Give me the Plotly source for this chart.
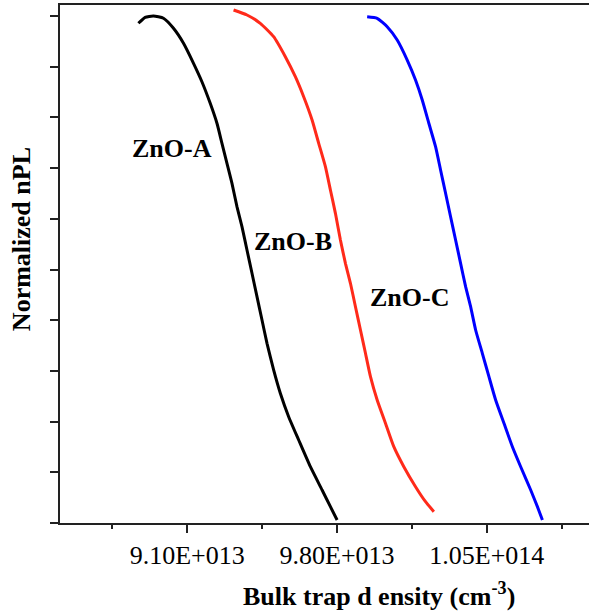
import plotly.graph_objects as go

# ---- data ----
x_a = [8.872e13, 8.9035e13, 8.9423e13, 8.9891e13, 9.0359e13, 9.0827e13, 9.1295e13, 9.1688e13,
       9.2076e13, 9.239e13, 9.2624e13, 9.2858e13, 9.3092e13, 9.3325e13, 9.3559e13, 9.3793e13,
       9.4027e13, 9.4261e13, 9.4495e13, 9.4729e13, 9.5038e13, 9.5351e13, 9.574e13, 9.6208e13,
       9.6755e13, 9.7303e13, 9.7691e13, 9.8004e13]
y_a = [0.9856, 0.9974, 1.000, 0.9955, 0.9757, 0.9462, 0.9067, 0.8704,
       0.8278, 0.7884, 0.7489, 0.7095, 0.670, 0.6239, 0.5844, 0.5385,
       0.4925, 0.4464, 0.4004, 0.3544, 0.3018, 0.2558, 0.2097, 0.1637,
       0.111, 0.0651, 0.0322, 0.0059]

x_b = [9.3166e13, 9.3793e13, 9.4416e13, 9.5038e13, 9.5585e13, 9.6053e13, 9.6442e13, 9.6835e13,
       9.7144e13, 9.7457e13, 9.7691e13, 9.7925e13, 9.8159e13, 9.8393e13, 9.8627e13, 9.8861e13,
       9.9095e13, 9.9329e13, 9.9563e13, 9.9876e13, 10.0264e13, 10.0653e13, 10.1121e13,
       10.1668e13, 10.2136e13, 10.2524e13]
y_b = [1.0118, 1.002, 0.9856, 0.9592, 0.9197, 0.8803, 0.8408, 0.7949,
       0.7489, 0.7028, 0.6568, 0.6108, 0.5582, 0.5122, 0.4728, 0.4266,
       0.3807, 0.3347, 0.2886, 0.2426, 0.1966, 0.1505, 0.111,
       0.0716, 0.042, 0.0223]

x_c = [9.9408e13, 9.9876e13, 10.0344e13, 10.0812e13, 10.128e13, 10.1668e13, 10.1982e13, 10.229e13,
       10.2604e13, 10.2838e13, 10.3072e13, 10.3306e13, 10.354e13, 10.3774e13, 10.4008e13,
       10.4242e13, 10.4476e13, 10.4789e13, 10.5098e13, 10.5411e13, 10.58e13, 10.6193e13,
       10.6581e13, 10.7049e13, 10.7362e13, 10.7596e13]
y_c = [0.9986, 0.9955, 0.9789, 0.9527, 0.9132, 0.8738, 0.8343, 0.7884,
       0.7422, 0.6963, 0.6503, 0.6041, 0.5582, 0.5122, 0.4661,
       0.4266, 0.3807, 0.3347, 0.2886, 0.2426, 0.1966, 0.1505,
       0.111, 0.0651, 0.0322, 0.0059]

series_names = ["ZnO-A", "ZnO-B", "ZnO-C"]
label_x = [9.0284e13, 9.5936e13, 10.1387e13]
label_y = [0.7377, 0.5548, 0.4448]

x_tick_vals = [9.1e13, 9.8e13, 1.05e14]
x_tick_text = ["9.10E+013", "9.80E+013", "1.05E+014"]
x_minor_vals = [8.75e13, 9.45e13, 1.015e14, 1.085e14]

# ---- figure ----
FONT = "Liberation Serif"
colors = ["#000000", "#ff2a1a", "#0000ff"]

fig = go.Figure()
for xs, ys, name, col in zip([x_a, x_b, x_c], [y_a, y_b, y_c], series_names, colors):
    fig.add_trace(go.Scatter(x=xs, y=ys, mode="lines", name=name,
                             line=dict(color=col, width=3, shape="spline", smoothing=0.5),
                             showlegend=False))

for name, lx, ly in zip(series_names, label_x, label_y):
    fig.add_annotation(x=lx, y=ly, text="<b>" + name + "</b>", showarrow=False,
                       font=dict(family=FONT, size=26, color="#000"),
                       xanchor="center", yanchor="middle")

fig.add_annotation(xref="paper", yref="paper", x=0.603, y=-0.138,
                   text="<b>Bulk trap d ensity (cm<sup>-3</sup>)</b>", showarrow=False,
                   font=dict(family=FONT, size=26, color="#000"),
                   xanchor="center", yanchor="middle")
fig.add_annotation(xref="paper", yref="paper", x=-0.0737, y=0.548,
                   text="<b>Normalized nPL</b>", showarrow=False, textangle=-90,
                   font=dict(family=FONT, size=26, color="#000"),
                   xanchor="center", yanchor="middle")

fig.update_layout(
    width=589, height=614,
    margin=dict(l=60, r=0, t=5, b=91),
    paper_bgcolor="white", plot_bgcolor="white",
    xaxis=dict(range=[8.5057e13, 1.09773e14], showgrid=False, zeroline=False,
               showline=True, linewidth=2, linecolor="#222", mirror=True,
               ticks="outside", ticklen=8, tickwidth=2, tickcolor="#222",
               tickmode="array", tickvals=x_tick_vals, ticktext=x_tick_text,
               tickfont=dict(family=FONT, size=26, color="#000"),
               minor=dict(tickmode="array", tickvals=x_minor_vals, ticks="outside",
                          ticklen=4, tickwidth=2, tickcolor="#222")),
    yaxis=dict(range=[0, 1.0217], showgrid=False, zeroline=False,
               showline=True, linewidth=2, linecolor="#222", mirror=False,
               ticks="outside", ticklen=8, tickwidth=2, tickcolor="#222",
               tick0=0, dtick=0.1, showticklabels=False),
)

fig.write_html("out.html")
